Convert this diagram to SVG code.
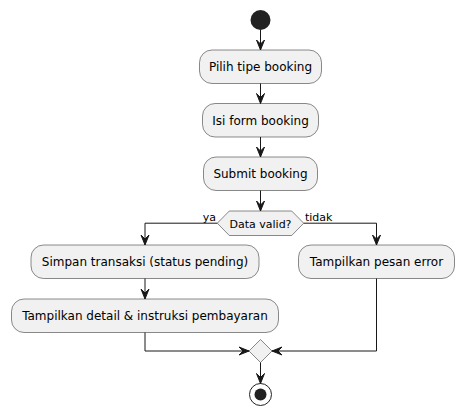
<svg xmlns="http://www.w3.org/2000/svg" width="464" height="415" viewBox="0 0 464 415">
<defs>
<style>
.box{fill:#F1F1F1;stroke:#181818;stroke-width:0.5}
.t{font-family:"DejaVu Sans",sans-serif;font-size:12px;fill:#000;text-anchor:middle}
.lbl{font-family:"DejaVu Sans",sans-serif;font-size:11px;fill:#000}
.ln{fill:none;stroke:#181818;stroke-width:1}
.ah{fill:#181818;stroke:#181818;stroke-width:1}
</style>
</defs>
<rect width="464" height="415" fill="#FFFFFF"/>
<g id="start"><circle cx="260.5" cy="20" r="10" fill="#222222"/></g>
<g id="n1"><rect class="box" x="199.5" y="50" width="122" height="33.5" rx="12.5"/><text class="t" x="260.5" y="71.2">Pilih tipe booking</text></g>
<g id="n2"><rect class="box" x="202.5" y="103.5" width="116" height="33.5" rx="12.5"/><text class="t" x="260.5" y="124.7">Isi form booking</text></g>
<g id="n3"><rect class="box" x="203.5" y="157" width="114" height="33.5" rx="12.5"/><text class="t" x="260.5" y="178.2">Submit booking</text></g>
<g id="d1"><polygon class="box" points="217.3,223.2 229.3,211 291.7,211 303.7,223.2 291.7,235.5 229.3,235.5"/><text class="t" x="260.5" y="227.5" style="font-size:11px">Data valid?</text></g>
<g id="n4"><rect class="box" x="31" y="245" width="228" height="33.5" rx="12.5"/><text class="t" x="145" y="266.2">Simpan transaksi (status pending)</text></g>
<g id="n5"><rect class="box" x="298.5" y="245" width="156" height="33.5" rx="12.5"/><text class="t" x="376.5" y="266.2">Tampilkan pesan error</text></g>
<g id="n6"><rect class="box" x="11.5" y="299" width="267" height="33.5" rx="12.5"/><text class="t" x="145" y="320.2">Tampilkan detail &amp; instruksi pembayaran</text></g>
<g id="m1"><polygon class="box" points="260.5,339.5 272,351 260.5,362.5 249,351"/></g>
<g id="end"><circle cx="260.5" cy="394.5" r="11" fill="none" stroke="#222222" stroke-width="1"/><circle cx="260.5" cy="394.5" r="6" fill="#222222"/></g>
<g id="connectors">
<path class="ln" d="M260.5,30 V50"/>
<polygon class="ah" points="256.5,40 260.5,50 264.5,40 260.5,44"/>
<path class="ln" d="M260.5,83.5 V103.5"/>
<polygon class="ah" points="256.5,93.5 260.5,103.5 264.5,93.5 260.5,97.5"/>
<path class="ln" d="M260.5,137 V157"/>
<polygon class="ah" points="256.5,147 260.5,157 264.5,147 260.5,151"/>
<path class="ln" d="M260.5,190.5 V211"/>
<polygon class="ah" points="256.5,201 260.5,211 264.5,201 260.5,205"/>
<path class="ln" d="M217.3,223.2 H145 V245"/>
<polygon class="ah" points="141,235 145,245 149,235 145,239"/>
<text class="lbl" x="216" y="221" text-anchor="end">ya</text>
<path class="ln" d="M303.7,223.2 H376.5 V245"/>
<polygon class="ah" points="372.5,235 376.5,245 380.5,235 376.5,239"/>
<text class="lbl" x="305" y="221">tidak</text>
<path class="ln" d="M145,278.5 V299"/>
<polygon class="ah" points="141,289 145,299 149,289 145,293"/>
<path class="ln" d="M145,332.5 V351 H249"/>
<polygon class="ah" points="239,347 249,351 239,355 243,351"/>
<path class="ln" d="M376.5,278.5 V351 H272"/>
<polygon class="ah" points="282,347 272,351 282,355 278,351"/>
<path class="ln" d="M260.5,362.5 V383.5"/>
<polygon class="ah" points="256.5,373.5 260.5,383.5 264.5,373.5 260.5,377.5"/>
</g>
</svg>
